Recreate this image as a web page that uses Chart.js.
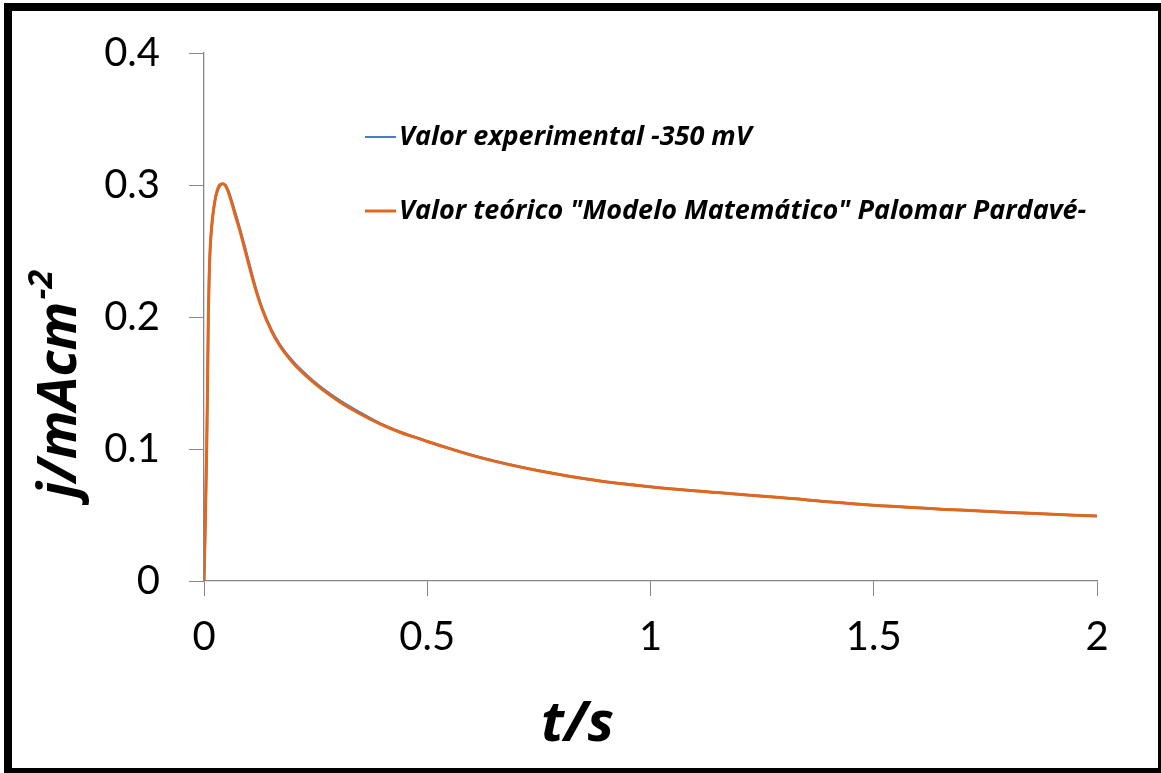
<!DOCTYPE html>
<html>
<head>
<meta charset="utf-8">
<script src="https://cdn.jsdelivr.net/npm/chart.js@4/dist/chart.umd.min.js"></script>
<style>
  html, body { margin: 0; padding: 0; background: #fff; overflow: hidden; }
  #wrap { position: absolute; left: 0; top: 0; width: 1161px; height: 773px; }
  #frame {
    position: absolute; left: 4px; top: 3px; width: 1162px; height: 773px;
    box-sizing: border-box; border: 8px solid #000; pointer-events: none;
  }
</style>
</head>
<body>
<div id="wrap">
  <canvas id="chart" width="1161" height="773"></canvas>
  <div id="frame"></div>
</div>
<script>
// time (s)
const times = [
  0, 0.003, 0.006, 0.008, 0.0097, 0.0115, 0.0135, 0.016, 0.019, 0.023,
  0.028, 0.035, 0.042, 0.048, 0.054, 0.062, 0.070, 0.081, 0.090, 0.100,
  0.115, 0.130, 0.150, 0.170, 0.200, 0.230, 0.265, 0.305, 0.350, 0.394,
  0.440, 0.484, 0.529, 0.618, 0.750, 0.887, 1.020, 1.156, 1.290, 1.469,
  1.693, 1.850, 2.000
];

// j (mA cm-2)
const experimental = [
  0, 0.044, 0.099, 0.149, 0.199, 0.229, 0.249, 0.263, 0.274, 0.285,
  0.293, 0.299, 0.301, 0.300, 0.296, 0.288, 0.279, 0.266, 0.255, 0.242,
  0.223, 0.207, 0.191, 0.179, 0.166, 0.156, 0.146, 0.1365, 0.1275, 0.1195,
  0.1130, 0.1078, 0.1027, 0.0937, 0.0835, 0.0757, 0.0707, 0.0669, 0.0632, 0.0582,
  0.0537, 0.0513, 0.0492
];

const theoretical = [
  0, 0.045, 0.100, 0.150, 0.200, 0.230, 0.250, 0.264, 0.275, 0.285,
  0.294, 0.300, 0.301, 0.2995, 0.295, 0.2865, 0.277, 0.2645, 0.253, 0.240,
  0.2215, 0.206, 0.190, 0.178, 0.165, 0.155, 0.145, 0.1355, 0.1265, 0.119,
  0.1125, 0.1075, 0.1025, 0.0935, 0.0835, 0.0757, 0.0707, 0.0669, 0.0632, 0.0582,
  0.0537, 0.0513, 0.0492
];

const seriesLabels = [
  'Valor experimental -350 mV',
  'Valor teórico "Modelo Matemático" Palomar Pardavé-'
];
const seriesColors = ['#4A7EBB', '#E2671C'];

const xTickLabels = ['0', '0.5', '1', '1.5', '2'];
const yTickLabels = ['0', '0.1', '0.2', '0.3', '0.4'];

const xTitle = 't/s';
const yTitle = 'j/mAcm';
const yTitleSup = '-2';

const FONT = 'Lato, "Open Sans", sans-serif';
const TITLE_FONT = '"Open Sans", Lato, sans-serif';
const AXIS_GRAY = '#868686';

// Titles and legend drawn at fixed spots like the original sheet
const decorPlugin = {
  id: 'decor',
  afterDraw(chart) {
    const ctx = chart.ctx;
    ctx.save();
    ctx.fillStyle = '#000';

    // x title
    ctx.font = 'italic bold 56px ' + TITLE_FONT;
    ctx.textAlign = 'left';
    ctx.textBaseline = 'alphabetic';
    ctx.fillText(xTitle, 541, 741);

    // y title with superscript
    ctx.save();
    ctx.translate(76, 498);
    ctx.rotate(-Math.PI / 2);
    ctx.font = 'italic bold 54px ' + TITLE_FONT;
    ctx.fillText(yTitle, 0, 0);
    const w = ctx.measureText(yTitle).width;
    ctx.font = 'italic bold 34px ' + TITLE_FONT;
    ctx.fillText(yTitleSup, w + 2, -24);
    ctx.restore();

    // legend
    const rows = [137, 211];
    chart.data.datasets.forEach((ds, i) => {
      const y = rows[i];
      ctx.strokeStyle = ds.borderColor;
      ctx.lineWidth = i === 0 ? 2 : 3;
      ctx.beginPath();
      ctx.moveTo(365, y);
      ctx.lineTo(396, y);
      ctx.stroke();
      ctx.font = 'italic bold 27px ' + TITLE_FONT;
      ctx.textBaseline = 'middle';
      ctx.fillText(ds.label, 399, y);
    });
    ctx.restore();
  }
};

const ctx = document.getElementById('chart');
new Chart(ctx, {
  type: 'line',
  data: {
    datasets: [
      {
        label: seriesLabels[0],
        data: times.map((t, i) => ({ x: t, y: experimental[i] })),
        borderColor: seriesColors[0],
        borderWidth: 2.5,
        pointRadius: 0,
        cubicInterpolationMode: 'monotone',
        order: 1
      },
      {
        label: seriesLabels[1],
        data: times.map((t, i) => ({ x: t, y: theoretical[i] })),
        borderColor: seriesColors[1],
        borderWidth: 3,
        pointRadius: 0,
        cubicInterpolationMode: 'monotone',
        order: 0
      }
    ]
  },
  options: {
    responsive: false,
    animation: false,
    events: [],
    layout: {
      padding: { left: 0, right: 64, top: 47, bottom: 0 }
    },
    scales: {
      x: {
        type: 'linear',
        min: 0,
        max: 2,
        afterFit: scale => { scale.height = 192; },
        afterBuildTicks: scale => {
          scale.ticks = xTickLabels.map(v => ({ value: parseFloat(v) }));
        },
        ticks: {
          callback: (value, index) => xTickLabels[index],
          font: { family: FONT, size: 40 },
          color: '#000',
          padding: 17,
          maxRotation: 0,
          autoSkip: false
        },
        grid: {
          drawOnChartArea: false,
          tickLength: 15,
          tickColor: AXIS_GRAY
        },
        border: { color: AXIS_GRAY, width: 1.3 }
      },
      y: {
        type: 'linear',
        min: 0,
        max: 0.4,
        afterFit: scale => { scale.width = 204; },
        afterBuildTicks: scale => {
          scale.ticks = yTickLabels.map(v => ({ value: parseFloat(v) }));
        },
        ticks: {
          callback: (value, index) => yTickLabels[index],
          font: { family: FONT, size: 40 },
          color: '#000',
          padding: 29
        },
        grid: {
          drawOnChartArea: false,
          tickLength: 15,
          tickColor: AXIS_GRAY
        },
        border: { color: AXIS_GRAY, width: 1.3 }
      }
    },
    plugins: {
      legend: { display: false },
      tooltip: { enabled: false }
    }
  },
  plugins: [decorPlugin]
});
</script>
</body>
</html>
